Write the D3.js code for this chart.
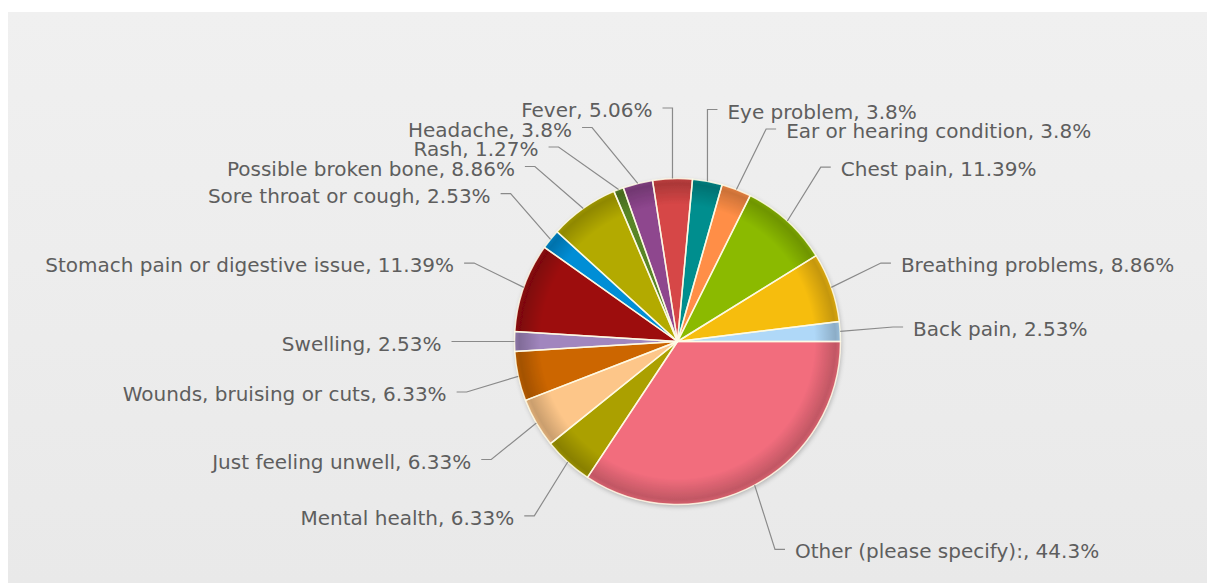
<!DOCTYPE html>
<html>
<head>
<meta charset="utf-8">
<script src="https://cdn.jsdelivr.net/npm/d3@7"></script>
<style>
  html, body { margin: 0; padding: 0; background: #ffffff; }
  svg { display: block; }
  .lbl { font-family: "DejaVu Sans", Verdana, sans-serif; font-size: 20px; fill: #5e5e5e; }
</style>
</head>
<body>
<svg id="chart" width="1207" height="583"></svg>
<script>
// Reasons for visit, in data order (drawn anticlockwise from 3 o'clock)
const categories = [
  "Back pain",
  "Breathing problems",
  "Chest pain",
  "Ear or hearing condition",
  "Eye problem",
  "Fever",
  "Headache",
  "Rash",
  "Possible broken bone",
  "Sore throat or cough",
  "Stomach pain or digestive issue",
  "Swelling",
  "Wounds, bruising or cuts",
  "Just feeling unwell",
  "Mental health",
  "Other (please specify):"
];
const percentages = [2.53, 8.86, 11.39, 3.8, 3.8, 5.06, 3.8, 1.27, 8.86, 2.53, 11.39, 2.53, 6.33, 6.33, 6.33, 44.3];
const palette = [
  "#AFD8F8", "#F6BD0F", "#8BBA00", "#FF8E46", "#008E8E", "#D64646",
  "#8E468E", "#588526", "#B3AA00", "#008ED6", "#9D080D", "#A186BE",
  "#CC6600", "#FDC689", "#ABA000", "#F26D7D"
];

const W = 1207, H = 583;
const cx = 677.5, cy = 341.5, R = 163;
// labels: vertical slot from an ellipse (labelRy), horizontal reach from a slightly flatter one
const labelRx = 216, labelRy = 236, reachRy = 233, labelTop = 108, labelGap = 19.5;

const svg = d3.select("#chart");
const defs = svg.append("defs");

// panel background
const bg = defs.append("linearGradient").attr("id", "panelBg")
  .attr("x1", 0).attr("y1", 0).attr("x2", 0).attr("y2", 1);
bg.append("stop").attr("offset", "0%").attr("stop-color", "#f0f0f0");
bg.append("stop").attr("offset", "100%").attr("stop-color", "#e9e9e9");
svg.append("rect").attr("x", 8).attr("y", 12).attr("width", W - 8).attr("height", H - 12)
  .attr("fill", "url(#panelBg)");

// edge shading for the pie
const shade = defs.append("radialGradient").attr("id", "pieShade")
  .attr("cx", "50%").attr("cy", "50%").attr("r", "50%");
shade.append("stop").attr("offset", "0%").attr("stop-color", "#000").attr("stop-opacity", 0);
shade.append("stop").attr("offset", "84%").attr("stop-color", "#000").attr("stop-opacity", 0);
shade.append("stop").attr("offset", "97%").attr("stop-color", "#000").attr("stop-opacity", 0.2);
shade.append("stop").attr("offset", "100%").attr("stop-color", "#000").attr("stop-opacity", 0.12);

const shadow = defs.append("filter").attr("id", "pieShadow")
  .attr("x", "-10%").attr("y", "-10%").attr("width", "120%").attr("height", "120%");
shadow.append("feGaussianBlur").attr("in", "SourceAlpha").attr("stdDeviation", 2.5).attr("result", "b");
shadow.append("feOffset").attr("dx", 1).attr("dy", 2).attr("result", "o");
shadow.append("feComponentTransfer").append("feFuncA").attr("type", "linear").attr("slope", 0.25);
const merge = shadow.append("feMerge");
merge.append("feMergeNode");
merge.append("feMergeNode").attr("in", "SourceGraphic");

const rows = categories.map((name, i) => ({ name, value: percentages[i], color: palette[i] }));

const pie = d3.pie().sort(null).value(d => d.value)
  .startAngle(Math.PI / 2).endAngle(Math.PI / 2 - 2 * Math.PI);
const arcs = pie(rows);
const arc = d3.arc().innerRadius(0).outerRadius(R);

const g = svg.append("g").attr("transform", `translate(${cx},${cy})`);
const pieG = g.append("g").attr("filter", "url(#pieShadow)");

pieG.selectAll("path.slice").data(arcs).join("path")
  .attr("class", "slice")
  .attr("d", arc)
  .attr("fill", d => d.data.color);

pieG.append("circle").attr("r", R).attr("fill", "url(#pieShade)");

g.selectAll("path.sep").data(arcs).join("path")
  .attr("class", "sep")
  .attr("d", arc)
  .attr("fill", "none")
  .attr("stroke", "#fffbe6")
  .attr("stroke-opacity", 0.85)
  .attr("stroke-width", 1.5)
  .attr("stroke-linejoin", "round");

// label placement: start on an ellipse around the pie, then push apart per side
const labels = arcs.map(d => {
  const a = (d.startAngle + d.endAngle) / 2;
  const right = Math.sin(a) >= 0;
  return {
    d, a, right,
    ex: R * Math.sin(a),
    ey: -R * Math.cos(a),
    y: -labelRy * Math.cos(a)
  };
});
[true, false].forEach(side => {
  const list = labels.filter(l => l.right === side).sort((p, q) => p.y - q.y);
  let prev = -Infinity;
  list.forEach(l => {
    l.y = Math.max(l.y, labelTop - cy, prev + labelGap);
    prev = l.y;
  });
});
labels.forEach(l => {
  const t = Math.max(0, 1 - (l.y / reachRy) ** 2);
  const ellX = (l.right ? 1 : -1) * labelRx * Math.sqrt(t);
  l.x = l.right ? Math.max(ellX, l.ex) : Math.min(ellX, l.ex);
});

const sgn = l => (l.right ? 1 : -1);

g.selectAll("polyline.lead").data(labels).join("polyline")
  .attr("class", "lead")
  .attr("points", l => [[l.ex, l.ey], [l.x, l.y], [l.x + sgn(l) * 10, l.y]].map(p => p.join(",")).join(" "))
  .attr("fill", "none")
  .attr("stroke", "#8a8a8a")
  .attr("stroke-width", 1.2);

g.selectAll("text.lbl").data(labels).join("text")
  .attr("class", "lbl")
  .attr("x", l => l.x + sgn(l) * 20)
  .attr("y", l => l.y + 9)
  .attr("text-anchor", l => (l.right ? "start" : "end"))
  .text(l => `${l.d.data.name}, ${l.d.data.value}%`);
</script>
</body>
</html>
